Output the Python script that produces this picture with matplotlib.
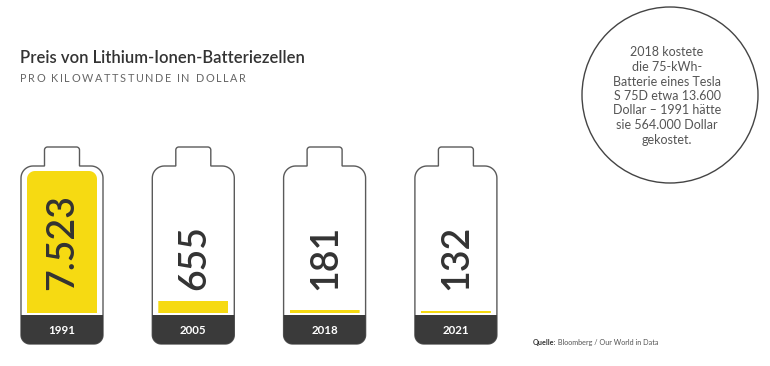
import numpy as np
import matplotlib
matplotlib.use("Agg")
import matplotlib.pyplot as plt
from matplotlib.patches import Polygon, Circle

# ---- data ----
years = ["1991", "2005", "2018", "2021"]
prices = [7523, 655, 181, 132]
title = "Preis von Lithium-Ionen-Batteriezellen"
subtitle = "PRO KILOWATTSTUNDE IN DOLLAR"
note = ("2018 kostete\ndie 75-kWh-\nBatterie eines Tesla\nS 75D etwa 13.600\n"
        "Dollar – 1991 hätte\nsie 564.000 Dollar\ngekostet.")
source_bold = "Quelle:"
source_rest = "Bloomberg / Our World in Data"

W, H = 770, 366
FONT = "Lato"
YELLOW = "#F6DA12"
DARK = "#3a3a3a"
TEXT = "#333333"

fig = plt.figure(figsize=(W / 100, H / 100), dpi=100)
ax = fig.add_axes([0, 0, 1, 1])
ax.set_xlim(0, W)
ax.set_ylim(H, 0)
ax.axis("off")
renderer = fig.canvas.get_renderer()

# battery geometry (pixel space)
centers = [62 + i * 131.3 for i in range(len(years))]
body_w = 82
cap_w = 35
cap_top, body_top, band_top, body_bot = 147, 166, 315, 344
fill_top, fill_bot = 171, 313
fill_w = 70


def arc(cx, cy, r, a0, a1, n=12):
    t = np.linspace(a0, a1, n)
    return list(zip(cx + r * np.cos(t), cy + r * np.sin(t)))


def outline(c):
    x0, x1 = c - body_w / 2, c + body_w / 2
    c0, c1 = c - cap_w / 2, c + cap_w / 2
    rt, rb, rc = 12, 9, 3
    pts = [(c0, body_top)]
    pts += arc(c0 + rc, cap_top + rc, rc, np.pi, 1.5 * np.pi)
    pts += arc(c1 - rc, cap_top + rc, rc, 1.5 * np.pi, 2 * np.pi)
    pts += [(c1, body_top)]
    pts += arc(x1 - rt, body_top + rt, rt, 1.5 * np.pi, 2 * np.pi)
    pts += arc(x1 - rb, body_bot - rb, rb, 0, 0.5 * np.pi)
    pts += arc(x0 + rb, body_bot - rb, rb, 0.5 * np.pi, np.pi)
    pts += arc(x0 + rt, body_top + rt, rt, np.pi, 1.5 * np.pi)
    return pts


def band(c):
    x0, x1 = c - body_w / 2, c + body_w / 2
    rb = 9
    pts = [(x0, band_top), (x1, band_top)]
    pts += arc(x1 - rb, body_bot - rb, rb, 0, 0.5 * np.pi)
    pts += arc(x0 + rb, body_bot - rb, rb, 0.5 * np.pi, np.pi)
    return pts


def inner(c):
    x0, x1 = c - fill_w / 2, c + fill_w / 2
    r = 8
    pts = [(x0, fill_bot + 2), (x1, fill_bot + 2)]
    pts += arc(x1 - r, fill_top + r, r, 0, -0.5 * np.pi)
    pts += arc(x0 + r, fill_top + r, r, -0.5 * np.pi, -np.pi)
    return pts


for c, yr in zip(centers, years):
    ax.add_patch(Polygon(outline(c), closed=True, facecolor="white",
                         edgecolor="#5a5a5a", linewidth=1.0, zorder=1))
    ax.add_patch(Polygon(band(c), closed=True, facecolor=DARK,
                         edgecolor="none", zorder=2))
    ax.text(c, (band_top + body_bot) / 2 + 0.5, yr, ha="center", va="center",
            color="white", fontsize=8.3, fontweight="bold", family=FONT, zorder=5)

# yellow fills as bars, scaled by value
bax = fig.add_axes([0, (H - fill_bot) / H, 1, (fill_bot - fill_top) / H])
bax.set_xlim(0, W)
bax.set_ylim(0, max(prices))
bax.axis("off")
bax.patch.set_alpha(0)
bars = bax.bar(centers, prices, width=fill_w, color=YELLOW, zorder=3)
for b, c in zip(bars, centers):
    clip = Polygon(inner(c), closed=True, transform=ax.transData)
    b.set_clip_path(clip)

# value labels (rotated), drawn above the bars
for c, v in zip(centers, prices):
    lab = f"{v:,}".replace(",", ".")
    bax.text(c + 1, 290, lab, transform=ax.transData, rotation=90,
             rotation_mode="anchor", ha="left", va="center", fontsize=27,
             color=TEXT, family=FONT, fontweight="semibold", zorder=6)

# titles
ax.text(20, 58, title, ha="left", va="center", fontsize=12, color=TEXT,
        family=FONT, fontweight="semibold")

# tracked subtitle: each letter placed at the measured prefix width + tracking
SUB_FS = 7.8
TRACK = 1.6  # extra pixels per letter
sub_y = 79
bar_probe = ax.text(0, 0, "|", fontsize=SUB_FS, family=FONT)
bar_w = bar_probe.get_window_extent(renderer).width
bar_probe.remove()
for i, ch in enumerate(subtitle):
    if ch == " ":
        continue
    pre = subtitle[:i]
    if pre:
        probe = ax.text(0, 0, pre.replace(" ", "\u00a0") + "|",
                        fontsize=SUB_FS, family=FONT)
        wpx = probe.get_window_extent(renderer).width - bar_w
        probe.remove()
    else:
        wpx = 0.0
    ax.text(20 + wpx + TRACK * i, sub_y, ch, ha="left", va="center",
            fontsize=SUB_FS, color="#666666", family=FONT)

# circle note
ax.add_patch(Circle((670, 95), 88, facecolor="none",
                    edgecolor="#444444", linewidth=1.0))
ax.text(667, 96, note, ha="center", va="center", fontsize=9,
        color="#555555", family=FONT, linespacing=1.25)

# source
t1 = ax.text(533, 343, source_bold, ha="left", va="center", fontsize=5.2,
             color="#333333", family=FONT, fontweight="bold")
ax.annotate(" " + source_rest, xycoords=t1, xy=(1, 0.5), ha="left", va="center",
            fontsize=5.2, color="#555555", family=FONT)

fig.savefig("out.png", dpi=100)
